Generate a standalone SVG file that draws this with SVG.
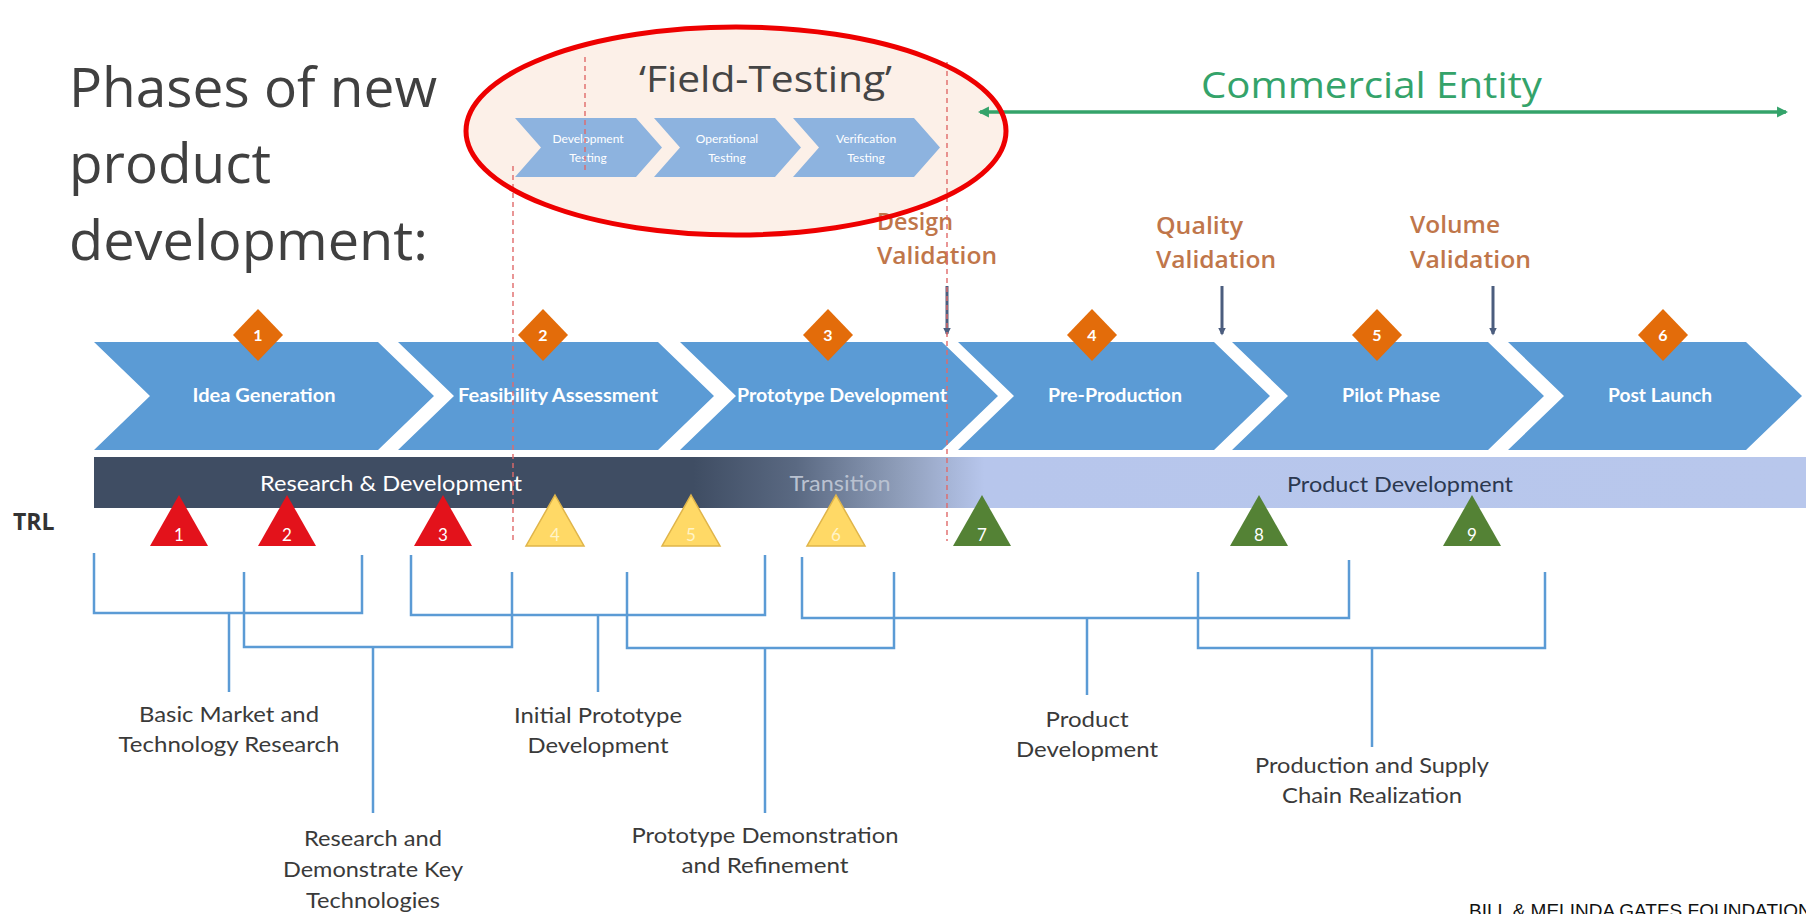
<svg xmlns="http://www.w3.org/2000/svg" width="1806" height="914" viewBox="0 0 1806 914">
  <defs>
    <style>
      .title { font-family: "Open Sans", "Liberation Sans", sans-serif; font-size: 54px; fill: #404040; }
      .ft { font-family: "Open Sans", "Liberation Sans", sans-serif; font-size: 36px; fill: #454545; }
      .mini { fill: #8db3df; }
      .minitxt { font-family: "Lato", "Liberation Sans", sans-serif; font-size: 12px; fill: #ffffff; text-anchor: middle; }
      .comm { font-family: "Open Sans", "Liberation Sans", sans-serif; font-size: 37px; fill: #34a36a; }
      .val { font-family: "Open Sans", "Liberation Sans", sans-serif; font-weight: 600; font-size: 24px; fill: #c0764a; }
      .chev { fill: #5b9bd5; }
      .chevtxt { font-family: "Lato", "Liberation Sans", sans-serif; font-weight: 700; font-size: 18px; fill: #ffffff; text-anchor: middle; }
      .dia { fill: #e36c0a; }
      .diatxt { font-family: "Lato", "Liberation Sans", sans-serif; font-weight: 700; font-size: 16px; fill: #ffffff; text-anchor: middle; }
      .bandtxt { font-family: "Lato", "Liberation Sans", sans-serif; font-size: 22px; text-anchor: middle; }
      .trl { font-family: "Open Sans", "Liberation Sans", sans-serif; font-weight: 700; font-size: 23px; fill: #333333; }
      .tri-r { fill: #e3121b; }
      .tri-y { fill: #ffd966; stroke: #e0b54a; stroke-width: 1.5; }
      .tri-g { fill: #548235; }
      .tritxt { font-family: "Lato", "Liberation Sans", sans-serif; font-size: 17px; fill: #ffffff; text-anchor: middle; }
      .tritxt-y { font-family: "Lato", "Liberation Sans", sans-serif; font-size: 17px; fill: #fff4c8; text-anchor: middle; }
      .br { fill: none; stroke: #5b9bd5; stroke-width: 2.5; }
      .lbl { font-family: "Lato", "Liberation Sans", sans-serif; font-size: 21px; fill: #3a3a3a; text-anchor: middle; }
      .dash { fill: none; stroke: #e06a6a; stroke-width: 1.4; stroke-dasharray: 5 4; }
      .valarrow { stroke: #4b5d7e; stroke-width: 3; fill: none; }
      .foot { font-family: "Liberation Sans", Arial, sans-serif; font-size: 19px; fill: #111111; }
    </style>
    <linearGradient id="bandGrad" gradientUnits="userSpaceOnUse" x1="94" y1="0" x2="1806" y2="0">
      <stop offset="0" stop-color="#3f4d63"/>
      <stop offset="0.35" stop-color="#3f4d63"/>
      <stop offset="0.41" stop-color="#5a6982"/>
      <stop offset="0.47" stop-color="#8e9db9"/>
      <stop offset="0.52" stop-color="#b7c6ec"/>
      <stop offset="1" stop-color="#b8c7ec"/>
    </linearGradient>
    <marker id="greenHead" viewBox="0 0 10 10" refX="8" refY="5" markerWidth="3.2" markerHeight="3.2" orient="auto-start-reverse" markerUnits="strokeWidth">
      <path d="M0,0 L10,5 L0,10 Z" fill="#34a36a"/>
    </marker>
    <marker id="slateHead" viewBox="0 0 10 10" refX="8" refY="5" markerWidth="2.6" markerHeight="2.6" orient="auto" markerUnits="strokeWidth">
      <path d="M0,0 L10,5 L0,10 Z" fill="#4b5d7e"/>
    </marker>
  </defs>

  <rect x="0" y="0" width="1806" height="914" fill="#ffffff"/>

  <!-- field-testing highlight background -->
  <ellipse cx="736" cy="131" rx="270" ry="104" fill="#fcf0e8"/>

  <!-- heading -->
  <g id="heading">
    <text class="title" x="69" y="107" textLength="368" lengthAdjust="spacingAndGlyphs">Phases of new</text>
    <text class="title" x="69" y="183" textLength="202" lengthAdjust="spacingAndGlyphs">product</text>
    <text class="title" x="69" y="260" textLength="359" lengthAdjust="spacingAndGlyphs">development:</text>
  </g>

  <!-- field-testing sub-phases -->
  <g id="field-testing">
    <text class="ft" x="639" y="92" textLength="253" lengthAdjust="spacingAndGlyphs">‘Field-Testing’</text>
    <g id="dev-testing">
      <path class="mini" d="M515,118 L636,118 L662,147.5 L636,177 L515,177 L541,147.5 Z"/>
      <text class="minitxt" x="588" y="143">Development</text>
      <text class="minitxt" x="588" y="162">Testing</text>
    </g>
    <g id="op-testing">
      <path class="mini" d="M654,118 L775,118 L801,147.5 L775,177 L654,177 L680,147.5 Z"/>
      <text class="minitxt" x="727" y="143">Operational</text>
      <text class="minitxt" x="727" y="162">Testing</text>
    </g>
    <g id="ver-testing">
      <path class="mini" d="M793,118 L914,118 L940,147.5 L914,177 L793,177 L819,147.5 Z"/>
      <text class="minitxt" x="866" y="143">Verification</text>
      <text class="minitxt" x="866" y="162">Testing</text>
    </g>
  </g>

  <!-- commercial entity span -->
  <g id="commercial-entity">
    <text class="comm" x="1201" y="98" textLength="341" lengthAdjust="spacingAndGlyphs">Commercial Entity</text>
    <line x1="980" y1="112" x2="1786" y2="112" stroke="#34a36a" stroke-width="3.5" marker-start="url(#greenHead)" marker-end="url(#greenHead)"/>
  </g>

  <!-- validation gates -->
  <g id="design-validation">
    <text class="val" x="877" y="230" textLength="76" lengthAdjust="spacingAndGlyphs">Design</text>
    <text class="val" x="877" y="264" textLength="120" lengthAdjust="spacingAndGlyphs">Validation</text>
  </g>
  <g id="quality-validation">
    <text class="val" x="1156" y="234" textLength="87" lengthAdjust="spacingAndGlyphs">Quality</text>
    <text class="val" x="1156" y="268" textLength="120" lengthAdjust="spacingAndGlyphs">Validation</text>
  </g>
  <g id="volume-validation">
    <text class="val" x="1410" y="233" textLength="90" lengthAdjust="spacingAndGlyphs">Volume</text>
    <text class="val" x="1410" y="268" textLength="121" lengthAdjust="spacingAndGlyphs">Validation</text>
  </g>

  <!-- main phase chevrons -->
  <g id="phase-1">
    <path class="chev" d="M94,342 L378,342 L434,396 L378,450 L94,450 L150,396 Z"/>
    <text class="chevtxt" x="264" y="402" textLength="143" lengthAdjust="spacingAndGlyphs">Idea Generation</text>
  </g>
  <g id="phase-2">
    <path class="chev" d="M398,342 L658,342 L714,396 L658,450 L398,450 L454,396 Z"/>
    <text class="chevtxt" x="558" y="402" textLength="200" lengthAdjust="spacingAndGlyphs">Feasibility Assessment</text>
  </g>
  <g id="phase-3">
    <path class="chev" d="M680,342 L942,342 L998,396 L942,450 L680,450 L736,396 Z"/>
    <text class="chevtxt" x="842" y="402" textLength="210" lengthAdjust="spacingAndGlyphs">Prototype Development</text>
  </g>
  <g id="phase-4">
    <path class="chev" d="M958,342 L1214,342 L1270,396 L1214,450 L958,450 L1014,396 Z"/>
    <text class="chevtxt" x="1115" y="402" textLength="134" lengthAdjust="spacingAndGlyphs">Pre-Production</text>
  </g>
  <g id="phase-5">
    <path class="chev" d="M1232,342 L1488,342 L1544,396 L1488,450 L1232,450 L1288,396 Z"/>
    <text class="chevtxt" x="1391" y="402" textLength="98" lengthAdjust="spacingAndGlyphs">Pilot Phase</text>
  </g>
  <g id="phase-6">
    <path class="chev" d="M1508,342 L1746,342 L1802,396 L1746,450 L1508,450 L1564,396 Z"/>
    <text class="chevtxt" x="1660" y="402" textLength="104" lengthAdjust="spacingAndGlyphs">Post Launch</text>
  </g>

  <!-- phase number diamonds -->
  <g id="diamonds">
    <g id="diamond-1"><path class="dia" d="M258,309 L283,335 L258,361 L233,335 Z"/><text class="diatxt" x="258" y="341">1</text></g>
    <g id="diamond-2"><path class="dia" d="M543,309 L568,335 L543,361 L518,335 Z"/><text class="diatxt" x="543" y="341">2</text></g>
    <g id="diamond-3"><path class="dia" d="M828,309 L853,335 L828,361 L803,335 Z"/><text class="diatxt" x="828" y="341">3</text></g>
    <g id="diamond-4"><path class="dia" d="M1092,309 L1117,335 L1092,361 L1067,335 Z"/><text class="diatxt" x="1092" y="341">4</text></g>
    <g id="diamond-5"><path class="dia" d="M1377,309 L1402,335 L1377,361 L1352,335 Z"/><text class="diatxt" x="1377" y="341">5</text></g>
    <g id="diamond-6"><path class="dia" d="M1663,309 L1688,335 L1663,361 L1638,335 Z"/><text class="diatxt" x="1663" y="341">6</text></g>
  </g>

  <!-- stage band -->
  <g id="stage-band">
    <rect x="94" y="457" width="1712" height="51" fill="url(#bandGrad)"/>
    <text class="bandtxt" x="391" y="491" fill="#ffffff" textLength="262" lengthAdjust="spacingAndGlyphs">Research &amp; Development</text>
    <text class="bandtxt" x="840" y="491" fill="#b9c1d0" textLength="101" lengthAdjust="spacingAndGlyphs">Transition</text>
    <text class="bandtxt" x="1400" y="492" fill="#2b3850" textLength="226" lengthAdjust="spacingAndGlyphs">Product Development</text>
  </g>

  <text class="trl" x="13" y="530">TRL</text>

  <!-- technology readiness levels -->
  <g id="trl-levels">
    <g id="trl-1"><path class="tri-r" d="M179,495 L208,546 L150,546 Z"/><text class="tritxt" x="179" y="541">1</text></g>
    <g id="trl-2"><path class="tri-r" d="M287,495 L316,546 L258,546 Z"/><text class="tritxt" x="287" y="541">2</text></g>
    <g id="trl-3"><path class="tri-r" d="M443,495 L472,546 L414,546 Z"/><text class="tritxt" x="443" y="541">3</text></g>
    <g id="trl-4"><path class="tri-y" d="M555,495 L584,546 L526,546 Z"/><text class="tritxt-y" x="555" y="541">4</text></g>
    <g id="trl-5"><path class="tri-y" d="M691,495 L720,546 L662,546 Z"/><text class="tritxt-y" x="691" y="541">5</text></g>
    <g id="trl-6"><path class="tri-y" d="M836,495 L865,546 L807,546 Z"/><text class="tritxt-y" x="836" y="541">6</text></g>
    <g id="trl-7"><path class="tri-g" d="M982,495 L1011,546 L953,546 Z"/><text class="tritxt" x="982" y="541">7</text></g>
    <g id="trl-8"><path class="tri-g" d="M1259,495 L1288,546 L1230,546 Z"/><text class="tritxt" x="1259" y="541">8</text></g>
    <g id="trl-9"><path class="tri-g" d="M1472,495 L1501,546 L1443,546 Z"/><text class="tritxt" x="1472" y="541">9</text></g>
  </g>

  <!-- brackets grouping TRL ranges into activities -->
  <g id="connectors">
    <path class="br" d="M94,553 V613 H362 V555"/>
    <path class="br" d="M229,613 V692"/>
    <path class="br" d="M244,572 V647 H512 V572"/>
    <path class="br" d="M373,647 V813"/>
    <path class="br" d="M411,555 V615 H765 V555"/>
    <path class="br" d="M598,615 V692"/>
    <path class="br" d="M627,572 V648 H894 V572"/>
    <path class="br" d="M765,648 V813"/>
    <path class="br" d="M802,557 V618 H1349 V560"/>
    <path class="br" d="M1087,618 V695"/>
    <path class="br" d="M1198,572 V648 H1545 V572"/>
    <path class="br" d="M1372,648 V747"/>
    <!-- validation gate pointers -->
    <line class="valarrow" x1="947" y1="286" x2="947" y2="334" marker-end="url(#slateHead)"/>
    <line class="valarrow" x1="1222" y1="286" x2="1222" y2="334" marker-end="url(#slateHead)"/>
    <line class="valarrow" x1="1493" y1="286" x2="1493" y2="334" marker-end="url(#slateHead)"/>
  </g>

  <!-- activity labels -->
  <g id="basic-research">
    <text class="lbl" x="229" y="722" textLength="180" lengthAdjust="spacingAndGlyphs">Basic Market and</text>
    <text class="lbl" x="229" y="752" textLength="221" lengthAdjust="spacingAndGlyphs">Technology Research</text>
  </g>
  <g id="key-technologies">
    <text class="lbl" x="373" y="846" textLength="138" lengthAdjust="spacingAndGlyphs">Research and</text>
    <text class="lbl" x="373" y="877" textLength="180" lengthAdjust="spacingAndGlyphs">Demonstrate Key</text>
    <text class="lbl" x="373" y="908" textLength="134" lengthAdjust="spacingAndGlyphs">Technologies</text>
  </g>
  <g id="initial-prototype">
    <text class="lbl" x="598" y="723" textLength="168" lengthAdjust="spacingAndGlyphs">Initial Prototype</text>
    <text class="lbl" x="598" y="753" textLength="141" lengthAdjust="spacingAndGlyphs">Development</text>
  </g>
  <g id="prototype-demo">
    <text class="lbl" x="765" y="843" textLength="267" lengthAdjust="spacingAndGlyphs">Prototype Demonstration</text>
    <text class="lbl" x="765" y="873" textLength="167" lengthAdjust="spacingAndGlyphs">and Refinement</text>
  </g>
  <g id="product-development">
    <text class="lbl" x="1087" y="727" textLength="83" lengthAdjust="spacingAndGlyphs">Product</text>
    <text class="lbl" x="1087" y="757" textLength="142" lengthAdjust="spacingAndGlyphs">Development</text>
  </g>
  <g id="supply-chain">
    <text class="lbl" x="1372" y="773" textLength="234" lengthAdjust="spacingAndGlyphs">Production and Supply</text>
    <text class="lbl" x="1372" y="803" textLength="180" lengthAdjust="spacingAndGlyphs">Chain Realization</text>
  </g>

  <!-- phase boundary markers -->
  <g id="boundaries">
    <line class="dash" x1="513" y1="166" x2="513" y2="541"/>
    <line class="dash" x1="585" y1="57" x2="585" y2="170"/>
    <line class="dash" x1="947" y1="62" x2="947" y2="541"/>
  </g>

  <!-- field-testing highlight outline -->
  <ellipse cx="736" cy="131" rx="270" ry="104" fill="none" stroke="#ee0000" stroke-width="5"/>

  <text class="foot" x="1469" y="917">BILL &amp; MELINDA GATES FOUNDATION</text>
</svg>
